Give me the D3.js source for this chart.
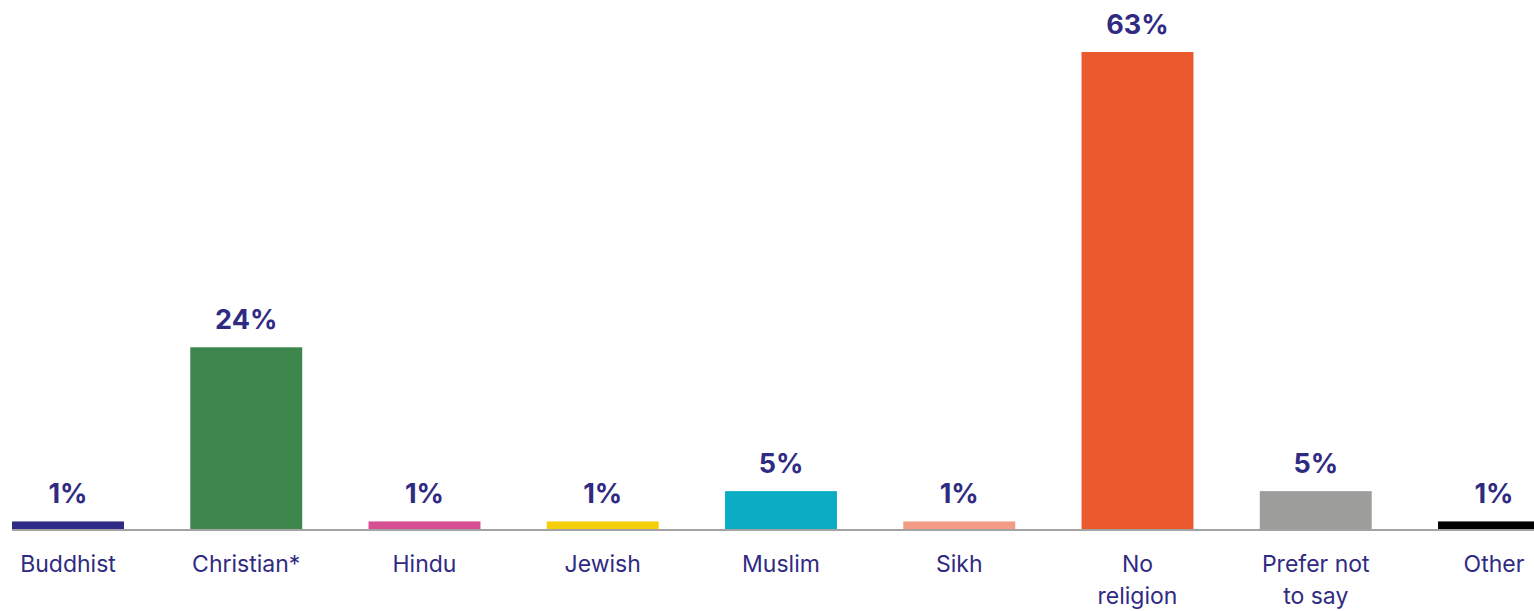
<!DOCTYPE html>
<html>
<head>
<meta charset="utf-8">
<script src="https://cdn.jsdelivr.net/npm/d3@7"></script>
<style>
  html, body { margin: 0; padding: 0; background: #fff; overflow: hidden; }
  svg { display: block; }
</style>
</head>
<body>
<svg id="chart" width="1534" height="611"></svg>
<script>
// Religion or belief, share of respondents (%)
const categories = ["Buddhist", "Christian*", "Hindu", "Jewish", "Muslim", "Sikh", "No religion", "Prefer not to say", "Other"];
const labelLines = [["Buddhist"], ["Christian*"], ["Hindu"], ["Jewish"], ["Muslim"], ["Sikh"], ["No", "religion"], ["Prefer not", "to say"], ["Other"]];
const values = [1, 24, 1, 1, 5, 1, 63, 5, 1];
const colors = ["#2e2a85", "#3d874f", "#d64f93", "#f5cf0a", "#0aadc3", "#f29b85", "#eb5a2e", "#9d9d9c", "#000000"];

const W = 1534, H = 611;
const baseY = 529;
const textColor = "#302b82";
const font = "Inter, 'Noto Sans', sans-serif";

const svg = d3.select("#chart");

const step = 178.25;
const x = d3.scaleBand()
  .domain(categories)
  .range([68 - step / 2, 68 - step / 2 + step * categories.length])
  .paddingInner(0.372)
  .paddingOuter(0.186);

const y = d3.scaleLinear()
  .domain([0, 63])
  .range([baseY, 52]);

// bars
svg.append("g").selectAll("rect")
  .data(values)
  .join("rect")
  .attr("x", (d, i) => x(categories[i]))
  .attr("width", x.bandwidth())
  .attr("y", d => y(d))
  .attr("height", d => baseY - y(d))
  .attr("fill", (d, i) => colors[i]);

// baseline
svg.append("line")
  .attr("x1", 12).attr("x2", W)
  .attr("y1", baseY + 1).attr("y2", baseY + 1)
  .attr("stroke", "#a3a3a3")
  .attr("stroke-width", 2.2);

// value labels
svg.append("g").selectAll("text")
  .data(values)
  .join("text")
  .attr("x", (d, i) => x(categories[i]) + x.bandwidth() / 2)
  .attr("y", d => y(d) - 18)
  .attr("text-anchor", "middle")
  .attr("font-family", font)
  .attr("font-weight", 700)
  .attr("font-size", 27)
  .attr("fill", textColor)
  .text(d => d + "%");

// category labels
const cat = svg.append("g").selectAll("text")
  .data(labelLines)
  .join("text")
  .attr("x", (d, i) => x(categories[i]) + x.bandwidth() / 2)
  .attr("y", 571.5)
  .attr("text-anchor", "middle")
  .attr("font-family", font)
  .attr("font-size", 23)
  .attr("fill", textColor);

cat.selectAll("tspan")
  .data(d => d)
  .join("tspan")
  .attr("x", function () { return d3.select(this.parentNode).attr("x"); })
  .attr("dy", (d, i) => i === 0 ? 0 : 32.5)
  .text(d => d);
</script>
</body>
</html>
